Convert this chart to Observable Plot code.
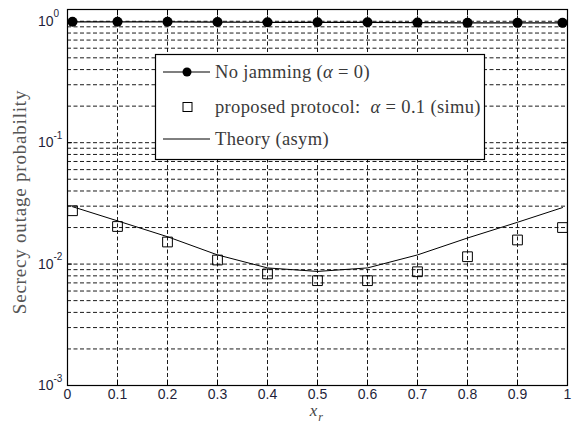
<!DOCTYPE html>
<html><head><meta charset="utf-8">
<script src="https://cdn.jsdelivr.net/npm/d3@7"></script>
<script src="https://cdn.jsdelivr.net/npm/@observablehq/plot@0.6"></script>
<style>body{margin:0;background:#fff} svg{display:block}</style>
</head><body><div id="chart"></div>
<script>
// ---- data ----
const xr = [0.01, 0.1, 0.2, 0.3, 0.4, 0.5, 0.6, 0.7, 0.8, 0.9, 0.99];
const noJamming = [0.99, 0.99, 0.99, 0.985, 0.98, 0.98, 0.98, 0.975, 0.97, 0.97, 0.97];
const simu = [0.0275, 0.0204, 0.0152, 0.0108, 0.0083, 0.0073, 0.0073, 0.00865, 0.0115, 0.0158, 0.0200];
const theory = [0.0297, 0.0227, 0.0168, 0.0119, 0.0093, 0.0087, 0.0093, 0.0119, 0.0164, 0.0221, 0.0292];
const xTicks = [0, 0.1, 0.2, 0.3, 0.4, 0.5, 0.6, 0.7, 0.8, 0.9, 1];
const xTickLabels = ["0", "0.1", "0.2", "0.3", "0.4", "0.5", "0.6", "0.7", "0.8", "0.9", "1"];
const yMajor = [0.001, 0.01, 0.1, 1];
const yExp = ["-3", "-2", "-1", "0"];
const minorMult = [2, 3, 4, 5, 6, 7, 8, 9];
const decades = [0.001, 0.01, 0.1];
const yGrid = yMajor.concat(decades.flatMap(d => minorMult.map(m => m * d)));
const yLabel = "Secrecy outage probability";

const rows = xr.map((x, i) => ({x, noJamming: noJamming[i], simu: simu[i], theory: theory[i]}));

const dash = "4,2.5";
const plot = Plot.plot({
  width: 572,
  height: 425,
  marginLeft: 67,
  marginRight: 5,
  marginTop: 9,
  marginBottom: 40,
  x: {domain: [0, 1], axis: null},
  y: {type: "log", domain: [0.001, 1.25], axis: null},
  style: {background: "#fff"},
  marks: [
    Plot.ruleY(yGrid, {y: d => d, stroke: "#000", strokeWidth: 0.9, strokeDasharray: dash}),
    Plot.ruleX(xTicks.slice(1, -1), {x: d => d, stroke: "#000", strokeWidth: 0.9, strokeDasharray: dash}),
    Plot.frame({stroke: "#000", strokeWidth: 1.2}),
    Plot.axisX({anchor: "bottom", ticks: xTicks, tickSize: -5, tickFormat: () => "", label: null, stroke: "#000"}),
    Plot.axisX({anchor: "top", ticks: xTicks, tickSize: -5, tickFormat: () => "", label: null, stroke: "#000"}),
    Plot.axisY({anchor: "left", ticks: yMajor, tickSize: -5, tickFormat: () => "", label: null, stroke: "#000"}),
    Plot.axisY({anchor: "right", ticks: yMajor, tickSize: -5, tickFormat: () => "", label: null, stroke: "#000"}),
    // tick labels
    Plot.text(xTicks, {x: d => d, frameAnchor: "bottom", dy: 13.5, text: (d, i) => xTickLabels[i],
      fontFamily: "Liberation Sans, Arial, sans-serif", fontSize: 14, fill: "#1f1f3a"}),
    Plot.text(yMajor, {y: d => d, frameAnchor: "left", dx: -14, textAnchor: "end", text: () => "10",
      fontFamily: "Liberation Sans, Arial, sans-serif", fontSize: 14, fill: "#1f1f3a"}),
    Plot.text(yMajor, {y: d => d, frameAnchor: "left", dx: -14, dy: -7, textAnchor: "start", text: (d, i) => yExp[i],
      fontFamily: "Liberation Sans, Arial, sans-serif", fontSize: 10, fill: "#1f1f3a"}),
    // x axis label
    Plot.text(["x"], {frameAnchor: "bottom", dx: -4, dy: 30, fontStyle: "italic",
      fontFamily: "Liberation Serif, Times New Roman, serif", fontSize: 17, fill: "#444"}),
    Plot.text(["r"], {frameAnchor: "bottom", dx: 3, dy: 35, fontStyle: "italic",
      fontFamily: "Liberation Serif, Times New Roman, serif", fontSize: 12, fill: "#444"}),
    // data
    Plot.line(rows, {x: "x", y: "theory", stroke: "#000", strokeWidth: 1}),
    Plot.line(rows, {x: "x", y: "noJamming", stroke: "#000", strokeWidth: 1.2}),
    Plot.dot(rows, {x: "x", y: "noJamming", r: 5, fill: "#000", stroke: "none"}),
    Plot.dot(rows, {x: "x", y: "simu", r: 5.5, symbol: "square", fill: "none", stroke: "#000", strokeWidth: 1})
  ]
});
document.getElementById("chart").appendChild(plot);

const svg = d3.select(plot);
// y axis title
svg.append("text")
  .attr("transform", "translate(26,202) rotate(-90)")
  .attr("text-anchor", "middle")
  .attr("font-family", "Liberation Serif, Times New Roman, serif")
  .attr("font-size", 19).attr("letter-spacing", "0.8px")
  .attr("fill", "#555")
  .text(yLabel);

// legend
const lg = svg.append("g").attr("font-family", "Liberation Serif, Times New Roman, serif")
  .attr("font-size", 18.5).attr("letter-spacing", "0.35px").attr("fill", "#3a3a3a").attr("text-anchor", "start");
lg.append("rect").attr("x", 155.5).attr("y", 54.5).attr("width", 329).attr("height", 105)
  .attr("fill", "#fff").attr("stroke", "#000").attr("stroke-width", 1.2);
const rowsY = [72, 107, 139];
lg.append("line").attr("x1", 163).attr("x2", 210).attr("y1", rowsY[0]).attr("y2", rowsY[0]).attr("stroke", "#000").attr("stroke-width", 1.2);
lg.append("circle").attr("cx", 187).attr("cy", rowsY[0]).attr("r", 4.5).attr("fill", "#000");
lg.append("rect").attr("x", 183).attr("y", rowsY[1] - 4.5).attr("width", 9).attr("height", 9).attr("fill", "none").attr("stroke", "#000");
lg.append("line").attr("x1", 163).attr("x2", 210).attr("y1", rowsY[2]).attr("y2", rowsY[2]).attr("stroke", "#000").attr("stroke-width", 1);
function addLabel(y, parts) {
  const t = lg.append("text").attr("x", 215).attr("y", y).attr("dy", "0.33em");
  parts.forEach(p => t.append("tspan").attr("font-style", p.i ? "italic" : null).text(p.t));
}
addLabel(rowsY[0], [{t: "No jamming ("}, {t: "α", i: true}, {t: " = 0)"}]);
addLabel(rowsY[1], [{t: "proposed protocol:  "}, {t: "α", i: true}, {t: " = 0.1 (simu)"}]);
addLabel(rowsY[2], [{t: "Theory (asym)"}]);
</script>
</body></html>
